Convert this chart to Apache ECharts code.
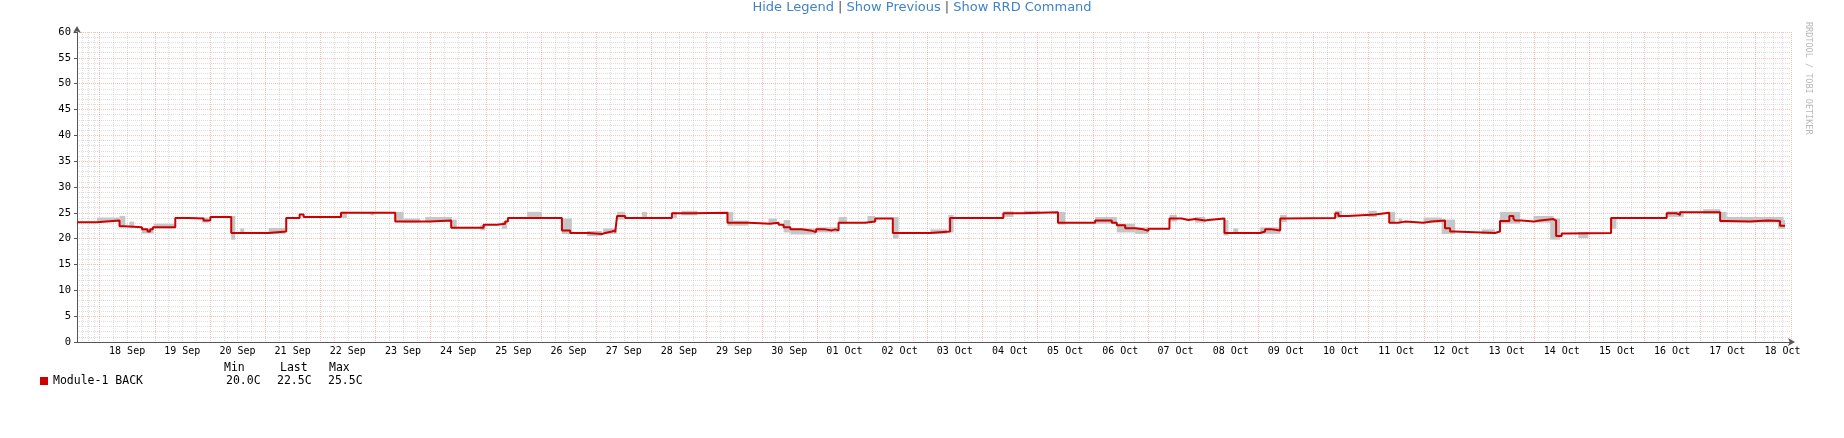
<!DOCTYPE html>
<html>
<head>
<meta charset="utf-8">
<title>Module-1 BACK</title>
<script src="https://cdn.jsdelivr.net/npm/echarts@6/dist/echarts.min.js"></script>
<style>
  html, body { margin: 0; padding: 0; background: #fff; }
  #chart { width: 1844px; height: 438px; }
</style>
</head>
<body>
<div id="chart"></div>
<script>
// graph window (UTC)
var axisStart = '2023-09-17 14:10';
var axisEnd = '2023-10-18 15:40';

var yMin = 0, yMax = 60, yStep = 5;
var seriesName = 'Module-1 BACK';
var unit = 'C';
var monthNames = ['Jan','Feb','Mar','Apr','May','Jun','Jul','Aug','Sep','Oct','Nov','Dec'];

// Module-1 BACK average: every value holds until the next time
var stepTimes = [
  '09-17 14:10','09-17 22:50','09-18 08:40','09-18 10:50','09-18 18:25','09-18 20:50','09-18 22:00','09-18 23:10',
  '09-19 08:55','09-19 14:45','09-19 21:15','09-20 00:10','09-20 09:15','09-21 01:30','09-21 09:10','09-21 15:00',
  '09-21 16:45','09-22 09:00','09-23 08:35','09-23 23:50','09-24 08:55','09-24 23:00','09-25 04:50','09-25 08:25',
  '09-25 09:35','09-26 09:05','09-26 12:40','09-26 20:40','09-27 02:30','09-27 03:55','09-27 06:50','09-27 08:15',
  '09-27 09:05','09-27 12:35','09-28 08:55','09-28 17:35','09-29 09:05','09-29 18:15','09-30 03:40','09-30 07:20',
  '09-30 09:30','09-30 12:25','09-30 17:25','09-30 21:05','09-30 23:40','10-01 03:35','10-01 06:30','10-01 07:55',
  '10-01 09:25','10-01 21:00','10-02 01:20','10-02 09:00','10-03 01:20','10-03 09:55','10-04 09:05','10-04 17:05',
  '10-05 08:50','10-06 01:00','10-06 08:15','10-06 10:25','10-06 14:05','10-06 18:25','10-06 22:00','10-07 00:10',
  '10-07 09:20','10-07 14:40','10-07 17:35','10-07 20:30','10-08 00:50','10-08 02:15','10-08 09:15','10-09 00:45',
  '10-09 02:55','10-09 05:50','10-09 09:30','10-09 11:40','10-10 09:25','10-10 10:50','10-10 15:10','10-11 02:50',
  '10-11 08:55','10-11 12:55','10-11 15:50','10-11 23:50','10-12 03:25','10-12 09:10','10-12 11:25','10-12 13:05',
  '10-13 06:55','10-13 09:05','10-13 13:10','10-13 14:55','10-13 15:40','10-13 18:35','10-13 23:40','10-14 02:30',
  '10-14 08:20','10-14 09:30','10-14 11:55','10-14 14:05','10-15 09:25','10-16 09:35','10-16 14:00','10-16 15:25',
  '10-17 08:50','10-17 11:40','10-17 21:50','10-18 01:30','10-18 05:50','10-18 10:55','10-18 13:05'
];
var stepValues = [
  23.2, 23.5, 22.4, 22.2, 21.8, 21.4, 21.8, 22.2,
  24.0, 23.9, 23.5, 24.2, 21.1, 21.4, 24.0, 24.7,
  24.2, 25.0, 23.3, 23.5, 22.1, 22.7, 22.9, 23.3,
  24.0, 21.6, 21.1, 20.9, 21.1, 21.4, 21.6, 21.2,
  24.4, 24.0, 24.9, 25.0, 23.1, 22.9, 23.1, 22.7,
  22.2, 21.8, 21.6, 21.3, 21.8, 21.6, 21.8, 21.6,
  23.1, 23.3, 23.9, 21.1, 21.4, 24.0, 24.9, 25.1,
  23.1, 23.5, 23.1, 22.6, 22.0, 21.8, 21.5, 21.9,
  23.9, 23.6, 23.8, 23.5, 23.6, 23.9, 21.1, 21.4,
  21.8, 21.6, 23.9, 24.0, 24.9, 24.4, 24.7, 25.0,
  23.1, 23.3, 23.1, 23.3, 23.5, 22.0, 21.4, 21.1,
  21.4, 23.4, 24.4, 23.9, 23.5, 23.3, 23.5, 23.8,
  23.5, 20.5, 21.0, 21.1, 24.0, 24.9, 24.6, 25.1,
  23.4, 23.3, 23.4, 23.5, 23.4, 22.5, 22.5
];

// grey min/max spread drawn behind the average
var bandStart = [
  '09-17 22:50','09-18 08:40','09-18 13:00','09-18 18:25','09-18 23:30','09-19 20:30','09-20 09:15','09-20 13:10',
  '09-21 01:30','09-22 09:25','09-22 21:45','09-23 08:35','09-23 12:10','09-23 21:40','09-24 09:15','09-24 21:35',
  '09-25 07:00','09-25 17:55','09-26 09:05','09-26 20:00','09-27 03:00','09-27 09:05','09-27 19:55','09-28 08:55',
  '09-28 13:00','09-29 09:05','09-29 11:35','09-30 02:55','09-30 09:30','09-30 12:25','09-30 23:40','10-01 09:25',
  '10-01 22:00','10-02 09:00','10-03 01:20','10-03 09:10','10-04 09:05','10-04 18:00','10-05 08:50','10-06 01:00',
  '10-06 10:25','10-06 18:25','10-07 09:20','10-07 20:30','10-08 08:50','10-08 13:05','10-09 00:45','10-09 09:30',
  '10-10 09:25','10-10 23:55','10-11 08:55','10-11 13:00','10-11 23:50','10-12 07:45','10-13 01:10','10-13 09:05',
  '10-13 23:40','10-14 06:55','10-14 19:10','10-15 09:25','10-16 09:35','10-17 01:30','10-17 08:50','10-17 11:40',
  '10-18 10:00'
];
var bandEnd = [
  '09-18 08:40','09-18 11:10','09-18 15:05','09-18 23:30','09-19 08:55','09-19 23:25','09-20 11:00','09-20 14:55',
  '09-21 08:45','09-22 11:35','09-22 23:30','09-23 12:10','09-23 19:25','09-24 09:15','09-24 11:20','09-24 23:45',
  '09-25 09:10','09-26 00:25','09-26 13:25','09-27 02:30','09-27 08:50','09-27 12:35','09-27 22:05','09-28 11:05',
  '09-28 20:00','09-29 11:35','09-29 18:15','09-30 06:35','09-30 12:25','09-30 23:40','10-01 09:25','10-01 13:00',
  '10-02 01:20','10-02 11:30','10-03 08:30','10-03 11:25','10-04 13:30','10-05 01:00','10-05 12:00','10-06 10:25',
  '10-06 18:25','10-07 00:10','10-07 12:30','10-08 00:50','10-08 11:00','10-08 15:15','10-09 09:30','10-09 12:20',
  '10-10 12:20','10-11 03:30','10-11 11:30','10-11 14:30','10-12 07:45','10-12 13:35','10-13 06:55','10-13 17:50',
  '10-14 08:20','10-14 11:15','10-14 23:30','10-15 11:45','10-16 17:00','10-17 08:50','10-17 11:40','10-18 12:25',
  '10-18 13:05'
];
var bandLow = [
  23.5, 22.4, 22.4, 21.2, 22.2, 23.3, 20.0, 21.3,
  21.1, 24.2, 24.7, 23.4, 23.3, 23.5, 22.1, 21.8,
  22.1, 24.2, 21.1, 20.7, 21.1, 23.9, 24.4, 24.2,
  24.7, 22.7, 22.7, 23.1, 21.4, 21.0, 21.4, 23.1,
  23.3, 20.2, 21.1, 21.4, 24.4, 24.9, 22.9, 23.1,
  21.4, 21.1, 23.5, 23.3, 20.8, 21.3, 21.1, 23.4,
  24.2, 24.4, 23.1, 23.3, 23.3, 21.1, 21.1, 23.1,
  23.3, 20.0, 20.3, 22.1, 24.4, 25.0, 23.3, 23.3,
  22.1
];
var bandHigh = [
  23.9, 24.2, 23.1, 21.8, 22.7, 23.9, 24.2, 21.8,
  21.9, 25.0, 25.0, 25.0, 23.7, 24.0, 23.5, 22.4,
  23.1, 25.0, 23.7, 21.3, 21.8, 25.0, 25.0, 25.0,
  25.2, 25.0, 23.3, 23.7, 23.4, 21.8, 22.0, 24.0,
  24.2, 24.0, 21.6, 24.4, 25.1, 25.2, 25.0, 24.0,
  22.7, 22.0, 24.4, 24.0, 23.4, 21.8, 22.0, 24.4,
  25.2, 25.2, 25.0, 23.7, 23.9, 23.5, 21.6, 25.0,
  24.2, 23.7, 21.1, 24.0, 25.1, 25.5, 25.0, 24.0,
  23.4
];

function toTime(s) {
  var p = s.split(/[- :]/);
  if (p.length === 4) p.unshift('2023');
  return Date.UTC(+p[0], +p[1] - 1, +p[2], +p[3], +p[4]);
}
function pad2(n) { return n < 10 ? '0' + n : '' + n; }

var lineData = stepTimes.map(function (t, i) { return [toTime(t), stepValues[i]]; });
var bandData = bandStart.map(function (t, i) {
  return [toTime(t), toTime(bandEnd[i]), bandLow[i], bandHigh[i]];
});

// legend figures
var minVal = Math.min.apply(null, bandLow.concat(stepValues));
var maxVal = Math.max.apply(null, bandHigh.concat(stepValues));
var lastVal = stepValues[stepValues.length - 1];

var mono = 'DejaVu Sans Mono';
var axisColor = '#555';
var majorGrid = 'rgba(255,80,80,0.38)';
var minorGrid = 'rgba(150,150,150,0.32)';
var legendFont = '11.5px "DejaVu Sans Mono"';

var myChart = echarts.init(document.getElementById('chart'), null, { renderer: 'canvas' });
var option = {
  backgroundColor: '#fff',
  animation: false,
  useUTC: true,
  title: {
    left: 'center',
    top: 0,
    padding: 0,
    text: '{l|Hide Legend}{s| | }{l|Show Previous}{s| | }{l|Show RRD Command}',
    textStyle: {
      fontWeight: 'normal',
      rich: {
        l: { color: '#3f83c9', fontSize: 13, fontWeight: 'normal', fontFamily: 'DejaVu Sans', lineHeight: 15 },
        s: { color: '#555', fontSize: 13, fontWeight: 'normal', fontFamily: 'DejaVu Sans', lineHeight: 15 }
      }
    }
  },
  legend: {
    left: 40,
    top: 375,
    padding: 0,
    icon: 'rect',
    itemWidth: 8,
    itemHeight: 8,
    itemGap: 6,
    selectedMode: false,
    data: [seriesName],
    textStyle: { fontFamily: mono, fontSize: 11.5, color: '#000' }
  },
  grid: { left: 77, right: 53, top: 32, bottom: 96, containLabel: false },
  xAxis: {
    type: 'time',
    min: toTime(axisStart),
    max: toTime(axisEnd),
    minInterval: 24 * 3600 * 1000,
    maxInterval: 24 * 3600 * 1000,
    axisLine: {
      show: true,
      onZero: false,
      lineStyle: { color: axisColor, width: 1 },
      symbol: ['none', 'arrow'],
      symbolSize: [6, 7],
      symbolOffset: [0, 4]
    },
    axisTick: { show: false },
    axisLabel: {
      fontFamily: mono,
      fontSize: 10,
      color: '#000',
      margin: 4,
      padding: [0, 0, 0, 55],
      showMinLabel: false,
      showMaxLabel: false,
      formatter: function (v) {
        var d = new Date(v);
        if (d.getUTCHours() || d.getUTCMinutes()) return '';
        return pad2(d.getUTCDate()) + ' ' + monthNames[d.getUTCMonth()];
      }
    },
    splitLine: { show: true, lineStyle: { color: majorGrid, type: 'dotted', width: 1 } },
    minorTick: { show: false, splitNumber: 4 },
    minorSplitLine: { show: true, lineStyle: { color: minorGrid, type: 'dotted', width: 1 } }
  },
  yAxis: {
    type: 'value',
    min: yMin,
    max: yMax,
    interval: yStep,
    axisLine: {
      show: true,
      lineStyle: { color: axisColor, width: 1 },
      symbol: ['none', 'arrow'],
      symbolSize: [6, 7],
      symbolOffset: [0, 6]
    },
    axisTick: { show: true, length: 3, lineStyle: { color: axisColor } },
    axisLabel: { fontFamily: mono, fontSize: 10.5, color: '#000', margin: 6 },
    splitLine: { show: true, lineStyle: { color: majorGrid, type: 'dotted', width: 1 } },
    minorTick: { show: false, splitNumber: 5 },
    minorSplitLine: { show: true, lineStyle: { color: minorGrid, type: 'dotted', width: 1 } }
  },
  graphic: [
    { type: 'text', left: 224, top: 362, style: { text: 'Min', font: legendFont, fill: '#000' } },
    { type: 'text', left: 280, top: 362, style: { text: 'Last', font: legendFont, fill: '#000' } },
    { type: 'text', left: 329, top: 362, style: { text: 'Max', font: legendFont, fill: '#000' } },
    { type: 'text', left: 226, top: 375, style: { text: minVal.toFixed(1) + unit, font: legendFont, fill: '#000' } },
    { type: 'text', left: 277, top: 375, style: { text: lastVal.toFixed(1) + unit, font: legendFont, fill: '#000' } },
    { type: 'text', left: 328, top: 375, style: { text: maxVal.toFixed(1) + unit, font: legendFont, fill: '#000' } },
    {
      type: 'text', x: 1813, y: 22, rotation: -Math.PI / 2,
      style: { text: 'RRDTOOL / TOBI OETIKER', font: '8.5px "DejaVu Sans Mono"', fill: '#b8b8b8' }
    }
  ],
  series: [
    {
      name: 'spread',
      type: 'custom',
      silent: true,
      z: 1,
      encode: { x: [0, 1], y: [2, 3] },
      data: bandData,
      renderItem: function (params, api) {
        var p1 = api.coord([api.value(0), api.value(3)]);
        var p2 = api.coord([api.value(1), api.value(2)]);
        return {
          type: 'rect',
          shape: { x: p1[0], y: p1[1] - 1, width: Math.max(2, p2[0] - p1[0]), height: Math.max(2, p2[1] - p1[1] + 2) },
          style: { fill: '#c6c6c6' }
        };
      }
    },
    {
      name: seriesName,
      type: 'line',
      step: 'end',
      z: 3,
      showSymbol: false,
      symbol: 'none',
      data: lineData,
      itemStyle: { color: '#cc0000' },
      lineStyle: { color: '#cc0000', width: 2 }
    }
  ]
};
myChart.setOption(option);
</script>
</body>
</html>
